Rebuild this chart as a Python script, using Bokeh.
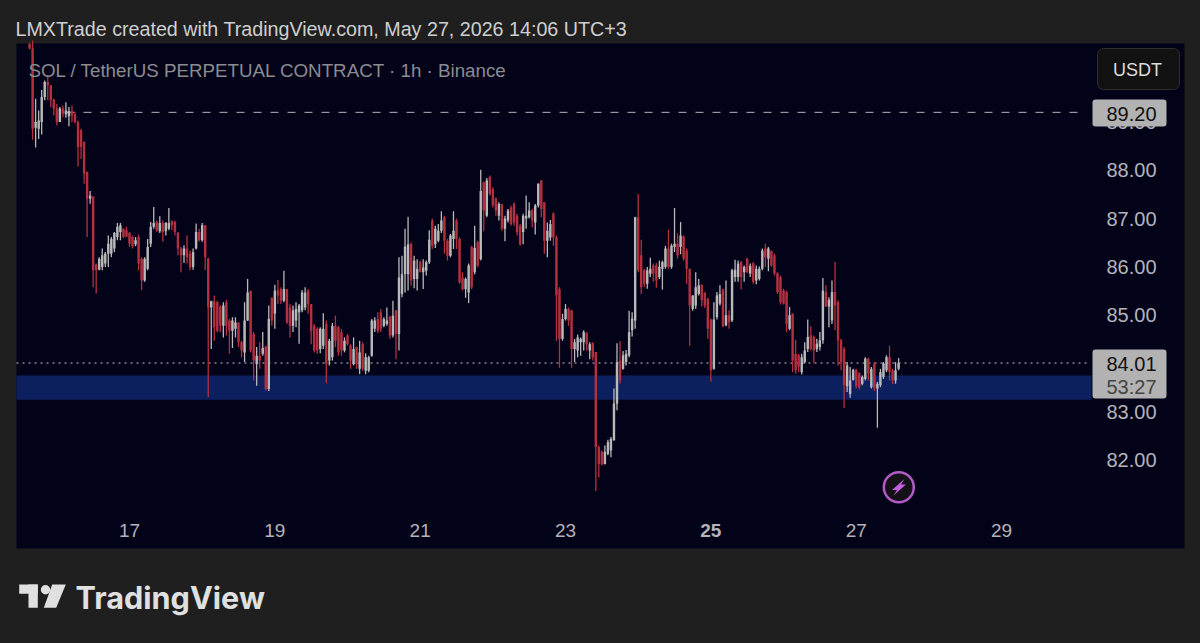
from bokeh.plotting import figure
from bokeh.embed import file_html
from bokeh.resources import INLINE
from bokeh.models import (BoxAnnotation, ColumnDataSource, FixedTicker, GlobalInlineStyleSheet,
                          Label, LinearAxis, PolyAnnotation, PrintfTickFormatter)

opens = [90.62,90.52,88.88,88.86,89.0,89.52,89.83,89.76,89.46,89.28,89.0,89.28,89.16,89.12,89.23,89.16,89.0,88.83,88.59,87.97,87.41,87.46,86.05,85.94,86.0,86.07,86.27,86.27,86.38,86.62,
 86.72,86.79,86.76,86.70,86.62,86.47,86.62,86.17,85.72,85.96,86.48,86.83,86.93,86.74,86.91,86.74,86.79,86.95,86.93,86.70,86.38,86.24,86.38,86.27,86.0,86.38,86.72,86.55,86.86,86.17,
 85.16,85.29,85.27,85.18,84.78,85.27,84.89,84.68,84.72,84.85,84.44,84.23,84.89,85.50,84.61,83.99,84.16,84.20,84.35,83.47,85.36,85.03,85.51,85.54,85.30,85.54,85.16,84.78,84.89,85.06,
 85.10,85.16,85.51,85.23,84.78,84.72,84.30,84.37,84.82,84.06,84.13,84.78,84.75,84.65,84.27,84.58,84.37,83.99,84.34,83.89,84.40,83.85,83.85,84.16,84.72,84.92,85.06,84.78,84.82,84.97,
 84.58,85.10,84.61,85.44,85.85,85.85,86.47,85.75,85.75,86.10,85.89,85.92,86.10,86.96,86.47,86.54,86.75,87.03,86.54,86.23,86.58,86.96,86.58,85.78,85.54,85.47,86.41,85.89,86.51,86.16,
 87.75,87.06,87.86,87.61,87.41,87.06,87.30,86.79,86.96,87.23,87.30,87.06,86.85,86.72,87.0,87.03,87.17,86.92,87.27,87.79,87.34,86.54,86.61,87.10,86.61,85.54,84.51,84.92,85.13,85.10,
 84.30,84.27,84.44,84.44,84.63,84.27,84.42,84.24,82.27,82.17,81.92,82.13,82.20,82.41,83.17,84.06,83.89,84.03,84.17,84.69,84.89,87.03,86.24,85.93,85.65,85.86,86.03,86.03,85.79,85.96,
 86.0,86.38,86.0,86.41,86.48,86.41,86.63,86.34,85.96,85.13,85.20,85.44,85.62,85.46,85.34,84.91,83.89,84.96,85.24,85.53,84.79,85.0,84.89,85.79,85.79,86.10,85.89,86.17,85.86,86.07,
 85.72,85.75,85.96,86.38,86.17,86.33,86.24,85.87,85.79,85.51,85.48,84.72,85.03,84.20,84.17,83.82,84.03,84.30,84.58,84.55,84.30,84.34,84.48,85.48,85.18,84.89,85.48,85.27,84.48,84.30,
 83.53,83.37,83.66,83.87,83.80,83.58,83.68,84.10,83.51,84.0,83.48,83.55,83.72,83.86,84.13,83.86,83.65,83.89]
highs = [90.63,90.9,89.48,89.24,89.66,89.86,89.97,89.76,89.48,89.38,89.31,89.34,89.41,89.31,89.34,89.21,89.03,88.86,88.59,87.97,87.57,87.46,86.07,86.20,86.38,86.31,86.65,86.62,86.72,86.91,
 86.91,86.79,86.83,86.72,86.65,86.62,86.67,86.20,86.2,86.58,86.93,87.24,86.96,87.05,86.96,86.93,87.22,86.96,86.96,86.72,86.41,86.45,86.65,86.34,86.38,86.9,86.79,86.91,86.86,86.19,
 85.30,85.41,85.30,85.20,85.27,85.32,84.92,84.96,84.96,84.85,84.47,85.27,85.75,85.51,84.65,84.34,84.44,84.65,84.37,85.20,85.37,85.63,85.73,85.58,85.92,85.54,85.23,85.20,85.27,85.23,
 85.52,85.58,85.54,85.23,84.82,84.75,84.75,85.04,84.89,84.51,84.84,84.99,84.78,84.72,84.54,84.61,84.40,84.54,84.35,84.47,84.44,84.21,84.16,84.92,84.96,85.06,85.13,84.96,85.16,84.99,
 85.30,85.11,86.20,86.23,86.79,87.04,86.51,86.23,86.16,86.13,86.16,86.13,86.76,87.0,86.85,86.89,87.15,87.06,86.58,86.68,87.15,87.0,86.61,85.89,85.78,86.07,86.44,86.85,86.54,88.01,
 87.77,87.84,87.89,87.65,87.44,87.34,87.30,87.06,87.2,87.27,87.34,87.10,86.89,87.10,87.48,87.34,87.2,87.30,87.73,87.80,87.34,86.92,86.97,87.13,86.65,85.58,85.03,85.23,85.16,85.11,
 84.51,84.60,84.54,84.69,84.65,84.44,84.44,84.24,82.30,82.20,82.30,82.42,82.48,83.48,84.42,84.46,84.26,84.28,85.09,85.06,87.04,87.51,86.56,85.96,86.0,86.19,86.07,86.08,86.13,86.13,
 86.44,86.77,86.48,87.22,86.69,86.93,86.65,86.38,85.96,85.41,85.89,85.75,85.64,85.48,85.36,84.93,85.27,85.48,85.62,85.55,85.72,85.10,85.96,86.15,86.13,86.12,86.03,86.19,86.07,86.10,
 86.03,86.01,86.38,86.48,86.41,86.34,86.27,85.89,85.82,85.55,85.51,85.17,85.04,84.49,84.20,84.20,84.44,84.91,84.77,84.58,84.51,84.65,85.77,85.62,85.37,85.72,86.10,85.31,84.51,84.34,
 84.03,83.93,83.89,83.89,83.82,83.75,84.13,84.12,83.93,84.03,83.62,83.89,84.03,84.17,84.37,83.89,84.03,84.11]
lows = [90.50,88.63,88.47,88.65,88.74,89.45,89.45,89.31,89.14,88.93,89.0,89.10,89.09,88.91,89.0,88.97,88.08,88.24,87.72,86.62,87.31,85.58,85.45,85.93,85.93,86.0,86.0,86.2,86.31,86.55,
 86.55,86.60,86.62,86.41,86.38,86.43,85.93,85.52,85.69,85.93,86.41,86.79,86.72,86.70,86.52,86.65,86.76,86.76,86.65,86.24,85.89,86.08,86.07,85.93,85.94,86.36,86.52,86.52,85.93,83.30,
 84.30,84.47,84.65,84.65,84.54,84.58,84.20,84.32,84.54,84.34,84.13,84.03,84.88,84.23,83.65,83.54,83.89,84.16,83.44,83.43,84.78,84.72,85.23,85.23,85.27,84.82,84.54,84.65,84.75,84.41,
 85.06,85.10,85.03,84.40,84.23,84.20,84.21,84.30,83.59,83.96,84.06,84.34,84.16,84.16,84.23,84.37,83.89,83.96,83.89,83.78,83.85,83.78,83.82,84.14,84.65,84.63,84.65,84.75,84.78,84.51,
 84.54,84.09,84.27,85.37,85.47,85.51,85.61,85.56,85.51,85.89,85.54,85.82,86.06,86.37,86.39,86.51,86.70,86.27,86.13,86.20,86.37,86.37,85.65,85.51,85.36,85.25,85.54,85.85,85.99,86.13,
 86.74,87.03,87.48,87.23,87.06,86.96,86.75,86.53,86.92,86.85,86.85,86.65,86.44,86.47,86.79,87.0,86.82,86.67,87.23,87.03,86.27,86.2,86.54,86.44,84.47,83.91,84.47,84.89,84.78,83.91,
 84.03,84.13,84.16,84.27,84.27,84.09,84.06,81.36,81.64,81.89,81.91,82.10,82.06,82.40,83.03,83.58,83.87,83.96,84.13,84.56,84.72,85.89,85.44,85.58,85.55,85.79,85.69,85.57,85.75,85.53,
 85.96,85.96,85.96,86.31,86.17,86.26,86.13,85.65,84.37,85.09,85.13,85.41,85.18,85.15,84.51,83.62,83.87,84.91,85.20,84.75,84.77,84.72,84.86,85.69,85.69,85.53,85.69,85.87,85.79,85.65,
 85.64,85.72,85.93,86.0,85.91,86.0,85.82,85.44,85.22,85.22,84.65,84.69,83.82,83.79,83.82,83.77,84.0,84.24,84.27,84.01,84.24,84.27,84.41,85.17,84.75,84.82,84.69,83.96,83.86,83.08,
 83.41,83.29,83.65,83.48,83.46,83.55,83.65,83.65,83.48,83.43,82.67,83.51,83.68,83.82,83.65,83.57,83.58,83.86]
closes = [90.52,88.86,89.0,89.03,89.52,89.83,89.76,89.45,89.28,89.0,89.28,89.17,89.24,89.23,89.14,89.0,88.48,88.48,87.93,87.41,87.48,85.93,85.93,86.17,86.24,86.27,86.48,86.58,86.70,86.83,
 86.86,86.62,86.63,86.48,86.43,86.55,86.07,85.72,86.17,86.41,86.83,86.91,86.76,86.91,86.72,86.91,86.91,86.86,86.72,86.38,86.24,86.38,86.2,86.0,86.31,86.72,86.55,86.86,86.2,85.16,
 85.29,84.75,84.68,84.78,85.20,84.78,84.68,84.89,84.85,84.44,84.27,84.89,85.47,84.27,84.06,84.16,84.06,84.32,83.47,84.92,84.89,85.51,85.41,85.30,85.54,84.85,84.78,85.10,85.13,85.20,
 85.47,85.47,85.23,84.68,84.27,84.27,84.72,84.72,83.99,84.47,84.78,84.47,84.23,84.27,84.47,84.40,84.06,84.30,83.99,84.23,83.89,84.13,84.13,84.89,84.89,84.68,84.72,84.92,84.89,84.58,
 84.99,84.61,85.78,85.85,86.42,86.47,85.72,86.13,85.96,85.89,85.99,86.10,86.56,86.44,86.79,86.75,86.96,86.54,86.23,86.65,86.75,86.58,85.68,85.54,85.75,86.03,85.58,86.39,86.03,87.57,
 87.17,87.79,87.51,87.27,87.17,87.30,86.79,87.0,87.17,86.89,86.92,86.72,86.47,87.06,87.06,87.17,86.96,87.27,87.72,87.2,86.54,86.75,86.89,86.61,85.41,84.51,84.92,85.13,84.89,84.30,
 84.44,84.54,84.51,84.65,84.40,84.40,84.13,82.27,81.92,81.91,82.17,82.37,82.44,83.17,84.03,83.65,84.17,84.20,84.65,84.93,87.03,85.93,85.58,85.65,85.93,85.96,85.86,85.72,86.0,86.10,
 86.38,86.0,86.44,86.48,86.24,86.65,86.17,85.96,85.20,85.41,85.58,85.62,85.31,85.20,84.72,83.86,84.91,85.41,85.44,84.77,85.0,84.86,85.93,85.94,86.07,85.79,86.0,85.89,86.02,85.69,
 85.96,85.96,86.34,86.20,86.38,86.03,85.86,85.48,85.27,85.24,84.82,85.0,84.06,83.86,83.93,84.13,84.27,84.55,84.30,84.27,84.41,84.48,85.51,85.18,85.32,85.48,85.20,84.48,84.03,83.55,
 83.96,83.65,83.87,83.53,83.51,83.72,84.10,83.79,83.89,83.50,83.58,83.82,84.0,84.13,83.82,83.65,83.86,84.01]

first_bar_day = 15.625
hours_per_day = 24
day_ticks = [17, 19, 21, 23, 27, 29]
bold_day_ticks = [25]
price_ticks = [82, 83, 84, 85, 86, 87, 88, 89]
zone_top, zone_bottom = 83.75, 83.25
level_price = 89.20
last_price = 84.01

PAGE_BG, PANEL_BG = "#1f1f1f", "#020218"
UP, DOWN = "#b9b9b9", "#b5303f"


def dx(px):
    return 17 + (px - 129) / 72.67


def py(px):
    return 84 + (363 - px) / 48.3


p = figure(width=1192, height=635, x_range=(dx(0), dx(1192)), y_range=(py(635), py(40)),
           output_backend="svg", toolbar_location=None, tools="",
           min_border_left=0, min_border_right=0, min_border_top=40, min_border_bottom=0,
           background_fill_color=PAGE_BG, border_fill_color=PAGE_BG,
           x_axis_type=None, y_axis_type=None,
           title="LMXTrade created with TradingView.com, May 27, 2026 14:06 UTC+3")
p.stylesheets = [GlobalInlineStyleSheet(css=f"html,body{{background:{PAGE_BG};}}")]
p.grid.visible = False
p.outline_line_color = None
p.title.text_font = "Liberation Sans"
p.title.text_font_size = "19.7px"
p.title.text_font_style = "normal"
p.title.text_color = "#cfcfcf"
p.title.offset = 15
p.title.standoff = 1

x = [first_bar_day + i / hours_per_day for i in range(len(closes))]
colors = [UP if c >= o else DOWN for o, c in zip(opens, closes)]
src = ColumnDataSource(dict(x=x, o=opens, h=highs, l=lows, c=closes, color=colors,
                            top=[max(o, c) for o, c in zip(opens, closes)],
                            bottom=[min(o, c) for o, c in zip(opens, closes)]))

p.quad(left=[dx(16)], right=[dx(1184)], top=[py(43)], bottom=[py(548)],
       fill_color=PANEL_BG, line_color=None)
p.quad(left=[dx(16)], right=[dx(1091)], top=[zone_top], bottom=[zone_bottom],
       fill_color="#0c2060", line_color=None)
p.segment(x0=[dx(66)], x1=[dx(1086)], y0=[level_price], y1=[level_price],
          line_color="#b4b4b8", line_width=1, line_dash="8 9")
p.segment(x0=[dx(16)], x1=[dx(1090)], y0=[last_price], y1=[last_price],
          line_color="#c8c8c8", line_width=1, line_dash="2 4")
p.segment("x", "h", "x", "l", source=src, line_color="color", line_width=1.3)
p.vbar("x", width=0.8 / hours_per_day, top="top", bottom="bottom", source=src,
       fill_color="color", line_color=None)

p.scatter([dx(898.3)], [py(486.7)], size=30, marker="circle", fill_color="#141018",
          line_color="#b45ac8", line_width=2.5)
p.add_layout(PolyAnnotation(xs=[dx(904), dx(891.5), dx(896.5), dx(893), dx(905.5), dx(900.5)],
                            ys=[py(478.5), py(489.5), py(489.5), py(495), py(484), py(484)],
                            fill_color="#c060dc", fill_alpha=1, line_color=None))


def make_x_axis(ticks, style):
    ax = LinearAxis(ticker=FixedTicker(ticks=ticks), fixed_location=py(513))
    ax.axis_line_color = None
    ax.major_tick_line_color = None
    ax.minor_tick_line_color = None
    ax.major_label_text_color = "#b4b4ba"
    ax.major_label_text_font = "Liberation Sans"
    ax.major_label_text_font_size = "19px"
    ax.major_label_text_font_style = style
    ax.major_label_standoff = 4
    p.add_layout(ax, "below")


make_x_axis(day_ticks, "normal")
make_x_axis(bold_day_ticks, "bold")

ya = LinearAxis(ticker=FixedTicker(ticks=price_ticks), fixed_location=dx(1092))
ya.axis_line_color = None
ya.major_tick_line_color = None
ya.minor_tick_line_color = None
ya.major_label_text_color = "#b4b4ba"
ya.major_label_text_font = "Liberation Sans"
ya.major_label_text_font_size = "20px"
ya.major_label_standoff = 8
ya.formatter = PrintfTickFormatter(format="%.2f")
p.add_layout(ya, "right")


def box(l, r, t, b, fill, radius=3, line=None):
    p.add_layout(BoxAnnotation(left=dx(l), right=dx(r), top=py(t), bottom=py(b), fill_color=fill,
                               fill_alpha=1, line_color=line, line_alpha=1 if line else 0,
                               border_radius=radius, level="annotation"))


def label(text, px, pyy, size, color, font="Liberation Sans", align="left", style="normal"):
    p.add_layout(Label(x=dx(px), y=py(pyy), text=text, text_font=font, text_font_size=size,
                       text_color=color, text_align=align, text_baseline="middle",
                       text_font_style=style))


label("SOL / TetherUS PERPETUAL CONTRACT \u00b7 1h \u00b7 Binance", 28, 70, "18.75px", "#8c8c92")

box(1092, 1166, 99, 126, "#b2b2b2")
label(f"{level_price:.2f}", 1131, 113, "20px", "#111111", align="center")
box(1092, 1166, 349, 398, "#b2b2b2")
label(f"{last_price:.2f}", 1131, 363, "20px", "#111111", align="center")
label("53:27", 1131, 386, "20px", "#444444", align="center")

box(1097, 1179, 48, 89, "#121212", radius=6, line="#2e2e2e")
label("USDT", 1137, 69, "18px", "#dddddd", align="center")

# TradingView mark and wordmark
box(18.7, 37.3, 584, 593.3, "#e0e0e0", radius=0)
box(28, 37.3, 584, 607.3, "#e0e0e0", radius=0)
box(40.3, 49.7, 584.6, 594, "#e0e0e0", radius=5)
p.add_layout(PolyAnnotation(xs=[dx(51.7), dx(65.3), dx(55.7), dx(43.3)],
                            ys=[py(584), py(584), py(607.3), py(607.3)],
                            fill_color="#e0e0e0", fill_alpha=1, line_color=None))
label("TradingView", 75, 597, "30.6px", "#e0e0e0", font="Inter", style="bold")

open("out.html", "w").write(file_html(p, INLINE))
